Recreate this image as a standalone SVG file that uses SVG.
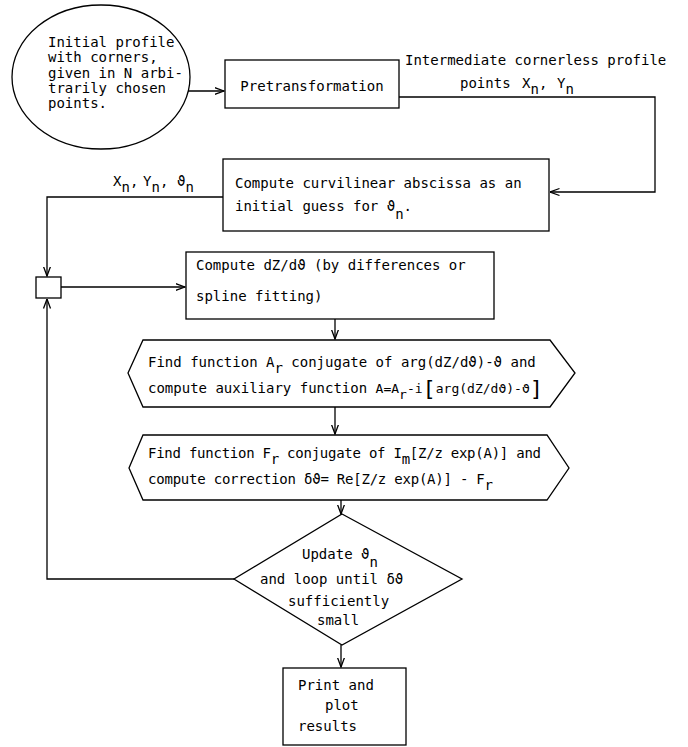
<svg xmlns="http://www.w3.org/2000/svg" width="688" height="747" viewBox="0 0 688 747">
<defs>
<style>
.s{fill:none;stroke:#000;stroke-width:1.3}
.t{font-family:"DejaVu Sans Mono","Liberation Mono",monospace;font-size:14px;fill:#000}
.f{font-size:13px}
.b{font-size:22px}
</style>
<marker id="ah" viewBox="0 0 10 10" refX="9.5" refY="5" markerWidth="10" markerHeight="10" orient="auto" markerUnits="userSpaceOnUse">
<path d="M0,1.5 L9.5,5 L0,8.5" fill="none" stroke="#000" stroke-width="1.3"/>
</marker>
</defs>
<rect width="688" height="747" fill="#fff"/>

<g id="n-initial">
<ellipse class="s" cx="101" cy="77" rx="89" ry="72"/>
<text class="t" x="48" y="47">Initial profile</text>
<text class="t" x="48" y="62">with corners,</text>
<text class="t" x="48" y="78">given in N arbi-</text>
<text class="t" x="48" y="93">trarily chosen</text>
<text class="t" x="48" y="108">points.</text>
</g>

<g id="n-pretrans">
<rect class="s" x="225" y="60" width="174" height="48"/>
<text class="t" x="312" y="91" text-anchor="middle">Pretransformation</text>
</g>

<g id="n-curvilinear">
<rect class="s" x="223" y="159" width="326" height="72"/>
<text class="t" x="235" y="188">Compute curvilinear abscissa as an</text>
<text class="t" x="235" y="211">initial guess for ϑ<tspan dy="8">n</tspan><tspan dy="-8">.</tspan></text>
</g>

<g id="n-junction">
<rect class="s" x="36" y="277" width="25" height="21"/>
</g>

<g id="n-dz">
<rect class="s" x="186" y="252" width="308" height="67"/>
<text class="t" x="196" y="270">Compute dZ/dϑ (by differences or</text>
<text class="t" x="196" y="301">spline fitting)</text>
</g>

<g id="n-findA">
<polygon class="s" points="143,340 550,340 575,373 550,407 143,407 128,373"/>
<text class="t" x="148" y="367">Find function A<tspan dy="6">r</tspan><tspan dy="-6"> conjugate of arg(dZ/dϑ)-ϑ and</tspan></text>
<text class="t" x="148" y="393">compute auxiliary function <tspan class="f">A=A</tspan><tspan class="f" dy="6">r</tspan><tspan class="f" dy="-6">-i</tspan><tspan class="b" dy="3">[</tspan><tspan class="f" dy="-3">arg(dZ/dϑ)-ϑ</tspan><tspan class="b" dy="3">]</tspan></text>
</g>

<g id="n-findF">
<polygon class="s" points="143,435 547,435 569,468 547,500 143,500 129,468"/>
<text class="t" x="148" y="458" textLength="393" lengthAdjust="spacing">Find function F<tspan dy="6">r</tspan><tspan dy="-6"> conjugate of I</tspan><tspan dy="6">m</tspan><tspan dy="-6">[Z/z exp(A)] and</tspan></text>
<text class="t" x="148" y="484" textLength="345" lengthAdjust="spacing">compute correction δϑ= Re[Z/z exp(A)] - F<tspan dy="6">r</tspan></text>
</g>

<g id="n-update">
<polygon class="s" points="342,514 462,579 342,645 234,579"/>
<text class="t" x="302" y="559">Update ϑ<tspan dy="8">n</tspan></text>
<text class="t" x="260" y="584">and loop until δϑ</text>
<text class="t" x="288" y="606">sufficiently</text>
<text class="t" x="317" y="625">small</text>
</g>

<g id="n-print">
<rect class="s" x="283" y="668" width="123" height="77"/>
<text class="t" x="298" y="690">Print and</text>
<text class="t" x="325" y="710">plot</text>
<text class="t" x="298" y="731">results</text>
</g>

<g id="connectors">
<line class="s" x1="188" y1="91" x2="224" y2="91" marker-end="url(#ah)"/>
<polyline class="s" points="399,97 655,97 655,192 550,192" marker-end="url(#ah)"/>
<polyline class="s" points="223,197 47,197 47,276" marker-end="url(#ah)"/>
<line class="s" x1="61" y1="287" x2="185" y2="287" marker-end="url(#ah)"/>
<line class="s" x1="335" y1="319" x2="335" y2="339" marker-end="url(#ah)"/>
<line class="s" x1="335" y1="407" x2="335" y2="434" marker-end="url(#ah)"/>
<line class="s" x1="341" y1="500" x2="341" y2="514" marker-end="url(#ah)"/>
<line class="s" x1="341" y1="645" x2="341" y2="667" marker-end="url(#ah)"/>
<polyline class="s" points="234,579 47,579 47,299" marker-end="url(#ah)"/>
</g>

<g id="labels">
<text class="t" x="405" y="65">Intermediate cornerless profile</text>
<text class="t" x="460" y="88">points<tspan x="522">X</tspan><tspan dy="6">n</tspan><tspan dy="-6">,</tspan><tspan x="557">Y</tspan><tspan dy="6">n</tspan></text>
<text class="t" x="113" y="186">X<tspan dy="6">n</tspan><tspan dy="-6">,</tspan><tspan x="143">Y</tspan><tspan dy="6">n</tspan><tspan dy="-6">,</tspan><tspan x="177">ϑ</tspan><tspan dy="6">n</tspan></text>
</g>
</svg>
